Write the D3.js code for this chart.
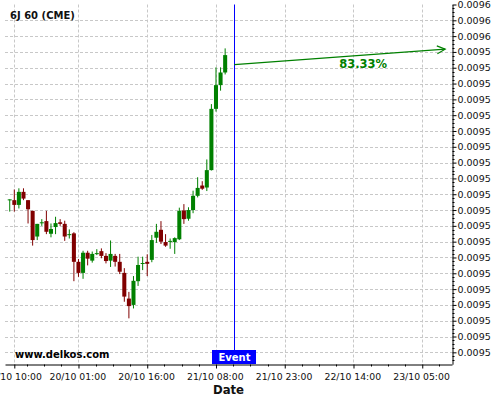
<!DOCTYPE html>
<html>
<head>
<meta charset="utf-8">
<script src="https://cdn.jsdelivr.net/npm/d3@7"></script>
<style>
  html, body { margin: 0; padding: 0; background: #fff; }
  svg { display: block; }
</style>
</head>
<body>
<div id="chart"></div>
<script>
// ---------------- DATA ----------------
const title = "6J 60 (CME)";
const candleIndex = [0,1,2,3,4,5,6,7,8,9,10,11,12,13,14,15,16,17,18,19,20,21,22,23,24,25,26,27,28,29,30,31,32,33,34,35,36,37,38,39,40,41,42,43,44,45,46,47];
const openP  = [0.0095087,0.0095085,0.0095073,0.0095106,0.0095085,0.0095058,0.0094993,0.0095029,0.0095032,0.0095000,0.0095017,0.0095029,0.0095025,0.0094999,0.0095001,0.0094929,0.0094901,0.0094952,0.0094932,0.0094951,0.0094956,0.0094944,0.0094932,0.0094944,0.0094929,0.0094901,0.0094836,0.0094820,0.0094880,0.0094926,0.0094929,0.0094934,0.0094990,0.0095010,0.0094979,0.0094982,0.0094979,0.0094986,0.0095059,0.0095038,0.0095060,0.0095096,0.0095122,0.0095117,0.0095161,0.0095316,0.0095376,0.0095408];
const highP  = [0.0095087,0.0095112,0.0095115,0.0095115,0.0095085,0.0095058,0.0095025,0.0095037,0.0095058,0.0095026,0.0095043,0.0095037,0.0095033,0.0095011,0.0095004,0.0094936,0.0094957,0.0094957,0.0094955,0.0094961,0.0094963,0.0094951,0.0094983,0.0094949,0.0094949,0.0094913,0.0094853,0.0094893,0.0094942,0.0094942,0.0094948,0.0094997,0.0095025,0.0095032,0.0094999,0.0094988,0.0094991,0.0095066,0.0095075,0.0095067,0.0095109,0.0095143,0.0095133,0.0095188,0.0095328,0.0095421,0.0095421,0.0095469];
const lowP   = [0.0095056,0.0095056,0.0095064,0.0095085,0.0095026,0.0094970,0.0094984,0.0095020,0.0094999,0.0094991,0.0094999,0.0095020,0.0094982,0.0094988,0.0094880,0.0094891,0.0094886,0.0094920,0.0094927,0.0094946,0.0094938,0.0094925,0.0094916,0.0094917,0.0094898,0.0094828,0.0094786,0.0094811,0.0094868,0.0094908,0.0094893,0.0094928,0.0094977,0.0094974,0.0094967,0.0094962,0.0094949,0.0094984,0.0095025,0.0095033,0.0095052,0.0095092,0.0095111,0.0095108,0.0095160,0.0095309,0.0095362,0.0095403];
const closeP = [0.0095087,0.0095073,0.0095106,0.0095089,0.0095062,0.0094984,0.0095025,0.0095029,0.0095005,0.0095012,0.0095027,0.0095025,0.0094993,0.0094999,0.0094929,0.0094901,0.0094952,0.0094937,0.0094949,0.0094951,0.0094944,0.0094931,0.0094949,0.0094929,0.0094904,0.0094841,0.0094817,0.0094881,0.0094921,0.0094926,0.0094924,0.0094984,0.0095005,0.0094980,0.0094970,0.0094982,0.0094989,0.0095058,0.0095037,0.0095060,0.0095096,0.0095116,0.0095114,0.0095161,0.0095316,0.0095376,0.0095408,0.0095452];

const yTickValues = [0.009558,0.009554,0.009550,0.009546,0.009542,0.009538,0.009534,0.009530,0.009526,0.009522,0.009518,0.009514,0.009510,0.009506,0.009502,0.009498,0.009494,0.009490,0.009486,0.009482,0.009478,0.009474,0.009470];
const yTickLabels = ["0.0096","0.0096","0.0096","0.0095","0.0095","0.0095","0.0095","0.0095","0.0095","0.0095","0.0095","0.0095","0.0095","0.0095","0.0095","0.0095","0.0095","0.0095","0.0095","0.0095","0.0095","0.0095","0.0095"];
const xTickIndex = [1,15,30,45,60,75,90];
const xTickLabels = ["19/10 10:00","20/10 01:00","20/10 16:00","21/10 08:00","21/10 23:00","22/10 14:00","23/10 05:00"];
const xMinorIndex = [3.75,7.5,11.25,18.75,22.5,26.25,33.75,37.5,41.25,48.75,52.5,56.25,63.75,67.5,71.25,78.75,82.5,86.25,93.75];

const eventIndex = 49;
const eventLabel = "Event";
const arrowIndex = [49, 95];
const arrowPrice = [0.0095428, 0.0095467];
const arrowText = "83.33%";
const arrowTextIndex = 77.1;
const xAxisTitle = "Date";
const watermark = "www.delkos.com";

// ---------------- LAYOUT ----------------
const W = 500, H = 400;
const plotL = 5, plotR = 452, plotT = 4.5, plotB = 364.2;
const GREEN = "#008000", RED = "#800000", BLUE = "#0000ff";
const FONT = "'DejaVu Sans', sans-serif";

const svg = d3.select("#chart").append("svg")
  .attr("width", W).attr("height", H)
  .style("font-family", FONT);
svg.append("rect").attr("width", W).attr("height", H).attr("fill", "#fff");

const x = d3.scaleLinear().domain([-1.03, 96.49]).range([plotL, plotR]);
const y = d3.scaleLinear().domain([0.009467, 0.009558]).range([plotB, plotT]);

// grid
const grid = svg.append("g").attr("stroke", "#c8c8c8").attr("stroke-dasharray", "3,2").attr("stroke-width", 1);
grid.selectAll("line.h").data(yTickValues.slice(1)).enter().append("line")
  .attr("x1", plotL).attr("x2", plotR)
  .attr("y1", d => Math.round(y(d)) + 0.5).attr("y2", d => Math.round(y(d)) + 0.5);
grid.selectAll("line.v").data(xTickIndex).enter().append("line")
  .attr("y1", plotT).attr("y2", plotB)
  .attr("x1", d => Math.round(x(d)) + 0.5).attr("x2", d => Math.round(x(d)) + 0.5);

// candles
const data = candleIndex.map((i, k) => ({i, o: openP[k], h: highP[k], l: lowP[k], c: closeP[k]}));
const step = x(1) - x(0);
const bw = step * 0.88;
const cg = svg.append("g");
const cand = cg.selectAll("g.c").data(data).enter().append("g");
cand.append("line")
  .attr("x1", d => x(d.i)).attr("x2", d => x(d.i))
  .attr("y1", d => y(d.h)).attr("y2", d => y(d.l))
  .attr("stroke", d => d.c >= d.o ? GREEN : RED).attr("stroke-width", 1);
cand.append("rect")
  .attr("x", d => x(d.i) - bw / 2).attr("width", bw)
  .attr("y", d => y(Math.max(d.o, d.c)))
  .attr("height", d => Math.max(1, Math.abs(y(d.o) - y(d.c))))
  .attr("fill", d => d.c >= d.o ? GREEN : RED);

// event line
const ex = Math.round(x(eventIndex)) + 0.5;
svg.append("line").attr("x1", ex).attr("x2", ex).attr("y1", plotT).attr("y2", 350)
  .attr("stroke", BLUE).attr("stroke-width", 1);

// arrow
const ax0 = x(arrowIndex[0]), ay0 = y(arrowPrice[0]);
const ax1 = x(arrowIndex[1]), ay1 = y(arrowPrice[1]);
svg.append("line").attr("x1", ax0).attr("y1", ay0).attr("x2", ax1).attr("y2", ay1)
  .attr("stroke", GREEN).attr("stroke-width", 1.2);
const ang = Math.atan2(ay1 - ay0, ax1 - ax0);
const hl = 9, ha = 0.45;
svg.append("path")
  .attr("d", `M${ax1 - hl * Math.cos(ang - ha)},${ay1 - hl * Math.sin(ang - ha)} L${ax1},${ay1} L${ax1 - hl * Math.cos(ang + ha)},${ay1 - hl * Math.sin(ang + ha)}`)
  .attr("fill", "none").attr("stroke", GREEN).attr("stroke-width", 1.2);
const tY = ay0 + (ay1 - ay0) * (arrowTextIndex - arrowIndex[0]) / (arrowIndex[1] - arrowIndex[0]);
svg.append("text").attr("x", x(arrowTextIndex)).attr("y", tY + 13)
  .attr("text-anchor", "middle").attr("font-weight", "bold").attr("font-size", "11.5px")
  .attr("fill", GREEN).text(arrowText);

// y axis
const yAxis = d3.axisRight(y).tickValues(yTickValues)
  .tickFormat((d, k) => yTickLabels[k]).tickSize(4).tickSizeOuter(0).tickPadding(1);
const gy = svg.append("g").attr("transform", `translate(${plotR + 0.5},0)`).call(yAxis);
gy.selectAll("text").attr("font-family", FONT).attr("font-size", "9.5px").attr("fill", "#111");
gy.select(".domain").attr("stroke", "#000");
gy.selectAll(".tick line").attr("stroke", "#000");
const yMinor = [];
for (let k = 0; k < yTickValues.length - 1; k++) {
  for (let m = 1; m < 4; m++) yMinor.push(yTickValues[k] - (yTickValues[k] - yTickValues[k + 1]) * m / 4);
}
yMinor.push(yTickValues[yTickValues.length - 1] - (yTickValues[0] - yTickValues[1]) / 4 * 1);
yMinor.push(yTickValues[yTickValues.length - 1] - (yTickValues[0] - yTickValues[1]) / 4 * 2);
gy.selectAll("line.minor").data(yMinor).enter().append("line")
  .attr("x1", 0).attr("x2", 2)
  .attr("y1", d => Math.round(y(d)) + 0.5).attr("y2", d => Math.round(y(d)) + 0.5)
  .attr("stroke", "#000");

// x axis
const xAxis = d3.axisBottom(x).tickValues(xTickIndex)
  .tickFormat((d, k) => xTickLabels[k]).tickSize(4).tickSizeOuter(0).tickPadding(5);
const gx = svg.append("g").attr("transform", `translate(0,${Math.round(plotB) + 0.5})`).call(xAxis);
gx.selectAll("text").attr("font-family", FONT).attr("font-size", "9.3px").attr("fill", "#111").attr("dx", -1.2);
gx.select(".domain").attr("stroke", "#000");
gx.selectAll(".tick line").attr("stroke", "#000");
gx.selectAll("line.minor").data(xMinorIndex).enter().append("line")
  .attr("x1", d => Math.round(x(d)) + 0.5).attr("x2", d => Math.round(x(d)) + 0.5)
  .attr("y1", 0).attr("y2", 2).attr("stroke", "#000");

// event box
const gEv = svg.append("g");
gEv.append("rect").attr("x", ex - 22.5).attr("y", 350).attr("width", 44).attr("height", 14).attr("fill", BLUE);
gEv.append("text").attr("x", ex).attr("y", 361).attr("text-anchor", "middle")
  .attr("font-weight", "bold").attr("font-size", "10px").attr("fill", "#fff").text(eventLabel);

// texts
svg.append("text").attr("x", 10).attr("y", 19).attr("font-weight", "bold").attr("font-size", "10px")
  .attr("fill", "#111").text(title);
svg.append("text").attr("x", 15).attr("y", 357.5).attr("font-weight", "bold").attr("font-size", "10px")
  .attr("fill", "#000").text(watermark);
svg.append("text").attr("x", (plotL + plotR) / 2).attr("y", 394).attr("text-anchor", "middle")
  .attr("font-weight", "bold").attr("font-size", "11.7px").attr("fill", "#111").text(xAxisTitle);
</script>
</body>
</html>
